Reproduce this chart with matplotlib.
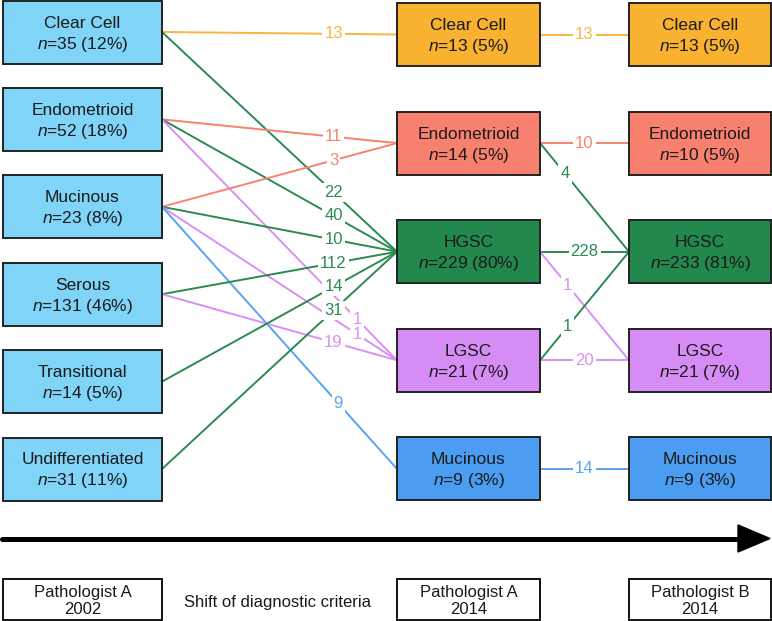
import matplotlib
matplotlib.use("Agg")
import matplotlib.pyplot as plt
from matplotlib.patches import Rectangle, Polygon

plt.rcParams['font.family'] = ['Liberation Sans', 'DejaVu Sans']
plt.rcParams['mathtext.fontset'] = 'custom'
plt.rcParams['mathtext.it'] = 'Liberation Sans:italic'
plt.rcParams['mathtext.rm'] = 'Liberation Sans'

# --- data ---
left_names = ["Clear Cell", "Endometrioid", "Mucinous", "Serous", "Transitional", "Undifferentiated"]
left_n = [35, 52, 23, 131, 14, 31]
left_pct = [12, 18, 8, 46, 5, 11]

mid_names = ["Clear Cell", "Endometrioid", "HGSC", "LGSC", "Mucinous"]
mid_n = [13, 14, 229, 21, 9]
mid_pct = [5, 5, 80, 7, 3]

right_names = ["Clear Cell", "Endometrioid", "HGSC", "LGSC", "Mucinous"]
right_n = [13, 10, 233, 21, 9]
right_pct = [5, 5, 81, 7, 3]

# (source index, destination index, count)
flows_a = [(0, 0, 13), (0, 2, 22),
           (1, 1, 11), (1, 2, 40), (1, 3, 1),
           (2, 1, 3), (2, 2, 10), (2, 3, 1), (2, 4, 9),
           (3, 2, 112), (3, 3, 19),
           (4, 2, 14),
           (5, 2, 31)]
flows_b = [(0, 0, 13),
           (1, 1, 10), (1, 2, 4),
           (2, 2, 228), (2, 3, 1),
           (3, 3, 20), (3, 2, 1),
           (4, 4, 14)]

stage_labels = ["Pathologist A\n2002", "Pathologist A\n2014", "Pathologist B\n2014"]
shift_text = "Shift of diagnostic criteria"

# --- style / layout ---
left_color = "#7fd4f8"
cat_colors = ["#f9b130", "#f8806f", "#23884c", "#d68cf5", "#4b9df1"]
line_colors = ["#f9b540", "#f8826f", "#2a8a50", "#d98ff5", "#5aa3f0"]

W, H = 772, 621
fig = plt.figure(figsize=(W / 100, H / 100), dpi=100)
ax = fig.add_axes([0, 0, 1, 1])
ax.set_xlim(0, W)
ax.set_ylim(H, 0)
ax.axis("off")

box_h = 63
left_x0, left_x1 = 3, 162
mid_x0, mid_x1 = 397, 540
right_x0, right_x1 = 629, 771
left_y = [32 + 87.4 * i for i in range(len(left_names))]
mid_y = [34.5 + 108.6 * i for i in range(len(mid_names))]


def draw_box(x0, x1, yc, face, name, n, pct, dy_name=-9, dy_n=12):
    ax.add_patch(Rectangle((x0, yc - box_h / 2), x1 - x0, box_h, facecolor=face,
                           edgecolor="#222222", lw=1.4, zorder=3))
    xc = (x0 + x1) / 2
    ax.text(xc, yc + dy_name, name, ha="center", va="center", fontsize=12.5,
            color="#1a1a1a", zorder=4)
    ax.text(xc, yc + dy_n, f"$n$={n} ({pct}%)", ha="center", va="center",
            fontsize=12.5, color="#1a1a1a", zorder=4)


for i, name in enumerate(left_names):
    draw_box(left_x0, left_x1, left_y[i], left_color, name, left_n[i], left_pct[i])
for i, name in enumerate(mid_names):
    draw_box(mid_x0, mid_x1, mid_y[i], cat_colors[i], name, mid_n[i], mid_pct[i])
for i, name in enumerate(right_names):
    draw_box(right_x0, right_x1, mid_y[i], cat_colors[i], name, right_n[i], right_pct[i])

# where along each line the count sits
frac_a = {(1, 3): 0.83, (2, 3): 0.83, (2, 4): 0.75}
frac_b = {(1, 2): 0.28, (2, 3): 0.31, (3, 2): 0.31}


def draw_flow(xa, ya, xb, yb, val, color, f):
    ax.plot([xa, xb], [ya, yb], color=color, lw=1.4, zorder=1, solid_capstyle="butt")
    ax.text(xa + f * (xb - xa), ya + f * (yb - ya), str(val), ha="center", va="center",
            fontsize=12, color=color, zorder=2,
            bbox=dict(boxstyle="square,pad=0.12", facecolor="white", edgecolor="none"))


for s, d, v in flows_a:
    draw_flow(left_x1, left_y[s], mid_x0, mid_y[d], v, line_colors[d], frac_a.get((s, d), 0.73))
for s, d, v in flows_b:
    draw_flow(mid_x1, mid_y[s], right_x0, mid_y[d], v, line_colors[d], frac_b.get((s, d), 0.5))

# timeline arrow
ax.plot([2, 742], [539, 539], color="black", lw=3.6, solid_capstyle="round", zorder=2)
ax.add_patch(Polygon([(738, 525), (770, 538.5), (738, 552)], closed=True,
                     facecolor="black", edgecolor="black", zorder=2))

# stage boxes
for (x0, x1), lab in zip([(left_x0, left_x1), (mid_x0, mid_x1), (right_x0, right_x1)], stage_labels):
    ax.add_patch(Rectangle((x0, 579), x1 - x0, 41, facecolor="white", edgecolor="#111111",
                           lw=1.4, zorder=3))
    ax.text((x0 + x1) / 2, 601, lab, ha="center", va="center", fontsize=12,
            linespacing=1.2, color="#1a1a1a", zorder=4)
ax.text(278, 602, shift_text, ha="center", va="center", fontsize=12, color="#1a1a1a")

fig.savefig("out.png", dpi=100)
